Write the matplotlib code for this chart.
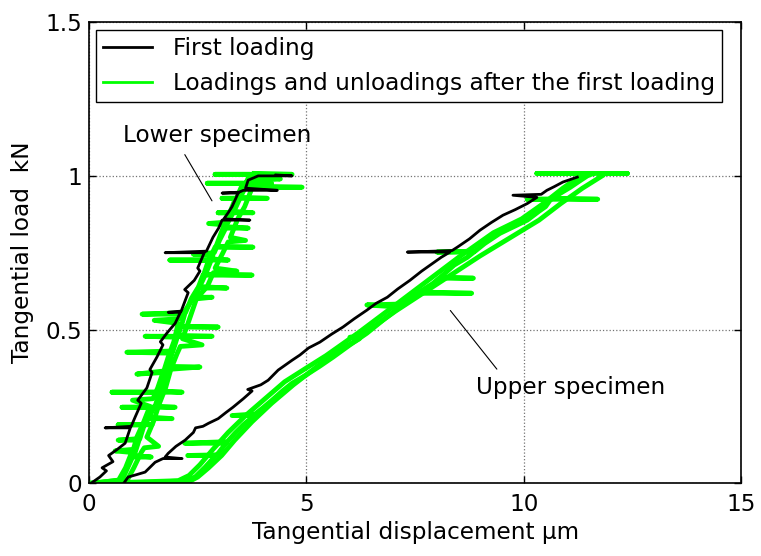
import matplotlib
matplotlib.use("Agg")
import matplotlib.pyplot as plt

plt.rcParams['font.family'] = ['DejaVu Sans']

# ---------------- data ----------------
x_ticks = [0, 5, 10, 15]
y_ticks = [0, 0.5, 1, 1.5]
y_tick_labels = ["0", "0.5", "1", "1.5"]

# Lower specimen, first loading (black)
lower_first = [(0.05, 0.00), (0.25, 0.02), (0.40, 0.04), (0.30, 0.05), (0.55, 0.07),
               (0.45, 0.09), (0.65, 0.11), (0.83, 0.13), (0.95, 0.18), (0.37, 0.18),
               (0.97, 0.185), (1.06, 0.215), (1.20, 0.26), (1.12, 0.27), (1.33, 0.31),
               (1.45, 0.36), (1.40, 0.37), (1.56, 0.41), (1.70, 0.45), (1.64, 0.46),
               (1.80, 0.49), (1.98, 0.52), (2.10, 0.556), (1.82, 0.556), (2.12, 0.56),
               (2.28, 0.62), (2.20, 0.63), (2.42, 0.66), (2.55, 0.69), (2.50, 0.70),
               (2.65, 0.75), (1.75, 0.75), (2.70, 0.755), (2.85, 0.80), (2.98, 0.83),
               (3.06, 0.856), (3.70, 0.856), (3.10, 0.86), (3.20, 0.88), (3.29, 0.90),
               (3.43, 0.944), (3.06, 0.944), (3.45, 0.947), (3.55, 0.953), (4.33, 0.953),
               (3.60, 0.96), (3.66, 0.986), (3.89, 1.00), (4.67, 1.00), (4.30, 1.003)]

# Upper specimen, first loading (black)
upper_first = [(0.80, 0.00), (0.90, 0.02), (1.10, 0.028), (1.29, 0.036), (1.52, 0.068),
               (1.70, 0.08), (2.14, 0.08), (1.75, 0.085), (1.82, 0.097), (2.00, 0.12),
               (2.21, 0.14), (2.40, 0.165), (2.45, 0.18), (2.62, 0.185), (2.75, 0.195),
               (2.97, 0.21), (3.15, 0.23), (3.31, 0.247), (3.55, 0.275), (3.75, 0.30),
               (3.65, 0.305), (3.95, 0.32), (4.12, 0.335), (4.35, 0.368), (4.67, 0.40),
               (4.85, 0.417), (5.05, 0.44), (5.31, 0.459), (5.58, 0.485), (5.84, 0.508),
               (6.10, 0.535), (6.39, 0.563), (6.60, 0.585), (6.86, 0.605), (7.10, 0.632),
               (7.38, 0.66), (7.65, 0.69), (7.91, 0.716), (8.10, 0.735), (8.30, 0.752),
               (7.32, 0.752), (8.35, 0.757), (8.47, 0.768), (8.75, 0.795), (8.99, 0.823),
               (9.25, 0.848), (9.52, 0.872), (9.80, 0.89), (10.08, 0.91), (10.30, 0.93),
               (9.75, 0.937), (10.40, 0.94), (10.53, 0.953), (10.70, 0.965), (10.90, 0.98),
               (11.23, 0.996)]

# Lower specimen, later loadings / unloadings (green)
lower_load1 = [(0.05, 0.00), (0.76, 0.01), (0.92, 0.06), (1.00, 0.085), (1.43, 0.085),
               (1.02, 0.09), (1.06, 0.10), (1.15, 0.14), (0.67, 0.14), (1.17, 0.145),
               (1.27, 0.19), (0.67, 0.19), (1.45, 0.19), (1.30, 0.195), (1.36, 0.21),
               (1.91, 0.21), (1.38, 0.215), (1.50, 0.247), (0.76, 0.247), (1.98, 0.247),
               (1.52, 0.25), (1.62, 0.296), (0.53, 0.296), (2.14, 0.296), (1.64, 0.30),
               (1.70, 0.32), (1.80, 0.37), (2.55, 0.378), (1.83, 0.38), (1.91, 0.423),
               (0.87, 0.426), (1.93, 0.43), (2.03, 0.475), (1.29, 0.478), (2.83, 0.478),
               (2.06, 0.48), (2.10, 0.508), (2.97, 0.508), (2.12, 0.51), (2.20, 0.55),
               (1.22, 0.55), (2.22, 0.555), (2.35, 0.60), (2.50, 0.635), (3.17, 0.635),
               (2.52, 0.64), (2.62, 0.677), (3.75, 0.677), (2.64, 0.68), (2.75, 0.726),
               (1.86, 0.726), (3.20, 0.726), (2.77, 0.73), (2.90, 0.768), (3.77, 0.768),
               (2.92, 0.77), (3.08, 0.83), (3.66, 0.83), (3.10, 0.835), (3.22, 0.88),
               (2.97, 0.88), (3.77, 0.88), (3.25, 0.885), (3.37, 0.927), (3.06, 0.927),
               (4.10, 0.927), (3.40, 0.93), (3.50, 0.963), (4.90, 0.963), (3.53, 0.966),
               (3.58, 0.976), (2.72, 0.976), (4.20, 0.976), (3.62, 0.98), (3.70, 1.005),
               (2.90, 1.005), (4.67, 1.005), (3.80, 1.008)]
lower_unload1 = [(3.85, 1.00), (4.40, 0.99), (3.78, 0.985), (3.72, 0.95), (3.58, 0.90),
                 (3.42, 0.86), (3.25, 0.80), (3.60, 0.79), (3.20, 0.785), (3.08, 0.75),
                 (2.90, 0.70), (3.40, 0.69), (2.86, 0.685), (2.72, 0.64), (2.50, 0.605),
                 (2.83, 0.605), (2.47, 0.60), (2.30, 0.53), (2.15, 0.47), (2.60, 0.45),
                 (2.10, 0.445), (2.02, 0.42), (1.88, 0.37), (1.76, 0.31), (1.62, 0.26),
                 (1.48, 0.20), (1.33, 0.15), (1.60, 0.12), (1.27, 0.115), (1.20, 0.10),
                 (1.03, 0.05), (0.88, 0.01), (0.10, 0.00)]
lower_load2 = [(0.10, 0.00), (0.68, 0.01), (0.84, 0.05), (0.98, 0.10), (0.60, 0.105),
               (1.02, 0.11), (1.10, 0.15), (1.26, 0.20), (1.40, 0.25), (1.00, 0.27),
               (1.47, 0.275), (1.58, 0.31), (1.70, 0.36), (1.10, 0.355), (1.72, 0.365),
               (1.82, 0.41), (1.95, 0.46), (2.05, 0.52), (1.50, 0.53), (2.08, 0.535),
               (2.25, 0.57), (2.48, 0.62), (2.68, 0.68), (2.85, 0.74), (2.40, 0.745),
               (2.88, 0.75), (3.00, 0.79), (3.18, 0.84), (2.75, 0.845), (3.20, 0.85),
               (3.35, 0.89), (3.48, 0.93), (3.62, 0.97), (3.72, 1.00)]

# Upper specimen, later loadings / unloadings (green)
upper_load1 = [(0.00, 0.00), (1.50, 0.003), (2.20, 0.008), (2.44, 0.02), (2.67, 0.052),
               (2.85, 0.08), (2.90, 0.09), (2.27, 0.09), (2.92, 0.092), (2.97, 0.097),
               (3.15, 0.13), (2.20, 0.13), (3.18, 0.135), (3.36, 0.163), (3.55, 0.19),
               (3.80, 0.22), (3.29, 0.22), (3.82, 0.225), (4.00, 0.245), (4.21, 0.27),
               (4.45, 0.30), (4.67, 0.325), (4.97, 0.35), (5.30, 0.38), (5.61, 0.41),
               (6.00, 0.45), (6.39, 0.488), (6.80, 0.535), (7.15, 0.573), (6.39, 0.58),
               (7.20, 0.583), (7.55, 0.618), (8.80, 0.618), (7.60, 0.622), (7.91, 0.65),
               (8.05, 0.667), (8.84, 0.667), (8.08, 0.67), (8.40, 0.71), (8.70, 0.735),
               (8.85, 0.752), (8.00, 0.752), (8.88, 0.755), (9.10, 0.78), (9.45, 0.813),
               (10.08, 0.856), (10.35, 0.885), (10.50, 0.90), (10.62, 0.924), (10.08, 0.924),
               (11.70, 0.924), (10.65, 0.927), (10.80, 0.94), (11.07, 0.963), (11.30, 0.985),
               (11.46, 1.00), (11.60, 1.008), (10.30, 1.008), (12.38, 1.008), (11.75, 1.008)]
upper_unload1 = [(11.80, 1.00), (11.35, 0.96), (10.85, 0.91), (10.35, 0.856), (9.70, 0.80),
                 (9.00, 0.74), (8.35, 0.68), (7.70, 0.62), (7.05, 0.56), (6.45, 0.50),
                 (6.20, 0.475), (6.00, 0.475), (6.22, 0.47), (5.85, 0.44), (5.25, 0.38),
                 (4.70, 0.32), (4.20, 0.26), (3.75, 0.20), (3.35, 0.14), (3.05, 0.09),
                 (2.75, 0.05), (2.50, 0.02), (2.30, 0.005), (0.30, 0.00)]
upper_load2 = [(0.30, 0.00), (2.05, 0.008), (2.30, 0.025), (2.55, 0.06), (2.85, 0.11),
               (3.20, 0.165), (3.60, 0.22), (4.05, 0.275), (4.50, 0.33), (5.00, 0.375),
               (5.45, 0.415), (6.20, 0.49), (7.00, 0.575), (7.75, 0.655), (8.50, 0.735),
               (9.30, 0.815), (9.95, 0.86), (10.45, 0.91), (10.90, 0.96), (11.30, 1.00)]

green_curves = [lower_load1, lower_unload1, lower_load2,
                upper_load1, upper_unload1, upper_load2]
black_curves = [lower_first, upper_first]

legend_labels = ["First loading", "Loadings and unloadings after the first loading"]

# ---------------- figure ----------------
FS = 16.7
fig = plt.figure(figsize=(7.61, 5.56), dpi=100)
ax = fig.add_axes([0.117, 0.131, 0.857, 0.829])

GREEN = "#00ff00"
for i, c in enumerate(green_curves):
    xs, ys = zip(*c)
    ax.plot(xs, ys, color=GREEN, lw=3.5, zorder=2,
            label=legend_labels[1] if i == 0 else None)
for i, c in enumerate(black_curves):
    xs, ys = zip(*c)
    ax.plot(xs, ys, color="black", lw=2.0, zorder=3,
            label=legend_labels[0] if i == 0 else None)

ax.set_xlim(0, 15)
ax.set_ylim(0, 1.5)
ax.set_xticks(x_ticks)
ax.set_yticks(y_ticks)
ax.set_yticklabels(y_tick_labels)
ax.tick_params(direction='in', top=True, right=True, length=5, width=1,
               labelsize=FS)
ax.tick_params(axis='x', pad=7)
ax.tick_params(axis='y', pad=5)
ax.grid(True, linestyle=':', color='0.45', lw=0.9)
for s in ax.spines.values():
    s.set_linewidth(1.2)

ax.set_xlabel("Tangential displacement \u03bcm", fontsize=FS, labelpad=4)
ax.set_ylabel("Tangential load  kN", fontsize=FS, labelpad=8)

handles, labels = ax.get_legend_handles_labels()
order = [labels.index(legend_labels[0]), labels.index(legend_labels[1])]
leg = ax.legend([handles[k] for k in order], [labels[k] for k in order],
                loc='upper left', bbox_to_anchor=(0.011, 0.983), borderaxespad=0,
                fontsize=FS, frameon=True, fancybox=False, framealpha=1,
                edgecolor='black', handlelength=2.1, handletextpad=0.9,
                labelspacing=0.5, borderpad=0.3)
leg.get_frame().set_linewidth(1.0)
for ln in leg.get_lines():
    ln.set_linewidth(2.0)

ax.annotate("", xy=(2.86, 0.911), xytext=(2.17, 1.077),
            arrowprops=dict(arrowstyle='-', lw=0.8, color='black'))
ax.text(0.78, 1.13, "Lower specimen", fontsize=FS, ha='left', va='center')
ax.annotate("", xy=(9.42, 0.364), xytext=(8.27, 0.569),
            arrowprops=dict(arrowstyle='-', lw=0.8, color='black'))
ax.text(8.89, 0.31, "Upper specimen", fontsize=FS, ha='left', va='center')

fig.savefig("out.png", dpi=100)
